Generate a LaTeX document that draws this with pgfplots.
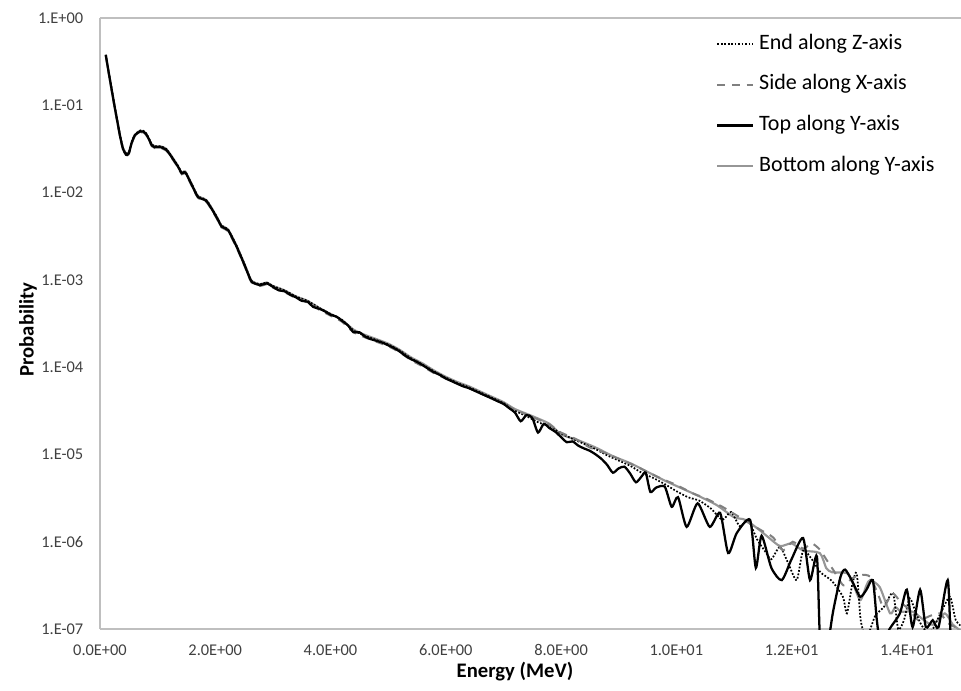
\documentclass[border=0pt]{standalone}
\usepackage{fontspec}
\setmainfont{Carlito}
\usepackage{pgfplots}
\pgfplotsset{compat=1.18}
\definecolor{axgray}{RGB}{191,191,191}
\definecolor{txtgray}{RGB}{64,64,64}
\definecolor{botgray}{RGB}{150,150,150}
\definecolor{dashgray}{RGB}{128,128,128}
\begin{document}
\begin{tikzpicture}
\begin{axis}[
  at={(0,0)}, anchor=south west,
  scale only axis, width=645.75pt, height=458.25pt,
  ymode=log, xmin=0, xmax=14.94, ymin=1e-7, ymax=1,
  axis x line*=box, axis y line*=left,
  axis line style={axgray, line width=0.8pt},
  tick style={draw=none},
  xtick={0,2,4,6,8,10,12,14},
  xticklabels={0.0E+00,2.0E+00,4.0E+00,6.0E+00,8.0E+00,1.0E+01,1.2E+01,1.4E+01},
  ytick={1e-7,1e-6,1e-5,1e-4,1e-3,1e-2,1e-1,1},
  yticklabels={1.E-07,1.E-06,1.E-05,1.E-04,1.E-03,1.E-02,1.E-01,1.E+00},
  tick label style={font=\fontsize{12.3}{14}\selectfont, text=txtgray},
  yticklabel style={xshift=-9pt},
  xticklabel style={yshift=-8pt},
  xlabel={Energy (MeV)}, ylabel={Probability},
  label style={font=\fontsize{15.5}{18}\selectfont\bfseries},
  xlabel style={at={(axis description cs:0.482,-0.0698)}, anchor=center},
  ylabel style={at={(axis description cs:-0.0836,0.49)}, anchor=center},
  legend cell align=left,
  legend image code/.code={\draw[#1] (0pt,0pt) -- (27pt,0pt);},
  legend style={draw=none, fill=none, at={(axis description cs:0.7108,0.980)}, anchor=north west,
    font=\fontsize{16.5}{19}\selectfont, column sep=3.5pt, row sep=14.6pt,
    nodes={inner sep=0pt, text height=12pt, text depth=4pt}},
  every axis plot/.append style={smooth, tension=0.4},
]
\addlegendimage{black, line width=1.3pt, dash pattern=on 1.3pt off 1.3pt}
\addlegendentry{End along Z-axis}
\addlegendimage{dashgray, line width=1.5pt, dash pattern=on 6pt off 5pt}
\addlegendentry{Side along X-axis}
\addlegendimage{black, line width=1.7pt}
\addlegendentry{Top along Y-axis}
\addlegendimage{botgray, line width=1.6pt}
\addlegendentry{Bottom along Y-axis}
% Bottom along Y-axis (gray solid)
\addplot[botgray, line width=1.6pt, forget plot] coordinates {
(0.10,0.370)(0.15,0.236)(0.20,0.151)(0.25,0.0977)(0.30,0.0646)(0.35,0.0437)(0.40,0.0324)(0.45,0.0282)(0.50,0.0290)(0.55,0.0372)(0.60,0.0447)(0.65,0.0490)(0.70,0.0513)(0.75,0.0501)(0.80,0.0468)(0.85,0.0407)(0.90,0.0355)(0.95,0.0339)(1.05,0.0339)(1.15,0.0316)(1.25,0.0257)(1.35,0.0200)(1.42,0.0170)(1.48,0.0174)(1.59,0.0126)(1.70,0.00912)(1.85,0.00813)(2.02,0.00537)(2.11,0.00417)(2.22,0.00380)(2.37,0.00246)(2.52,0.00145)(2.63,9.77e-4)(2.78,8.91e-4)(2.89,9.33e-4)(3.00,8.51e-4)(3.20,7.59e-4)(3.40,6.46e-4)(3.60,5.75e-4)(3.80,4.79e-4)(4.00,4.07e-4)(4.20,3.47e-4)(4.40,2.69e-4)(4.60,2.34e-4)(4.80,2.09e-4)(5.00,1.86e-4)(5.20,1.58e-4)(5.40,1.29e-4)(5.60,1.10e-4)(5.80,9.12e-5)(6.00,7.76e-5)(6.20,6.76e-5)(6.40,6.03e-5)(6.60,5.25e-5)(6.80,4.57e-5)(7.00,3.98e-5)
(7.2,3.31e-5)(7.5,2.75e-5)(7.8,2.24e-5)(8.0,1.70e-5)(8.3,1.45e-5)(8.6,1.20e-5)(8.9,9.55e-6)(9.2,7.94e-6)(9.5,6.31e-6)(9.8,5.01e-6)(10.1,4.07e-6)(10.4,3.31e-6)(10.7,2.63e-6)(11.0,1.91e-6)(11.2,1.78e-6)(11.45,1.35e-6)(11.6,1.12e-6)(11.8,8.91e-7)(12.0,9.55e-7)(12.2,7.94e-7)(12.49,7.41e-7)(12.6,5.01e-7)(12.7,4.47e-7)(12.96,4.37e-7)(13.05,3.55e-7)(13.19,2.14e-7)(13.3,3.16e-7)(13.36,3.63e-7)(13.53,3.02e-7)(13.71,1.51e-7)(13.8,1.78e-7)(13.9,1.58e-7)(14.1,1.58e-7)(14.3,1.26e-7)(14.45,1.12e-7)(14.66,1.51e-7)(14.8,1.12e-7)(15.0,8.9e-8)
};
% End along Z-axis (dotted)
\addplot[black, line width=1.3pt, dash pattern=on 1.3pt off 1.3pt, forget plot] coordinates {
(0.10,0.375)(0.15,0.243)(0.20,0.158)(0.25,0.102)(0.30,0.0676)(0.35,0.0447)(0.40,0.0324)(0.45,0.0282)(0.50,0.0290)(0.55,0.0380)(0.60,0.0457)(0.65,0.0490)(0.70,0.0513)(0.75,0.0510)(0.80,0.0479)(0.85,0.0417)(0.90,0.0355)(0.95,0.0339)(1.05,0.0339)(1.15,0.0316)(1.25,0.0257)(1.35,0.0205)(1.42,0.0170)(1.48,0.0174)(1.59,0.0126)(1.70,0.00912)(1.85,0.00813)(2.02,0.00537)(2.11,0.00417)(2.22,0.00380)(2.37,0.00246)(2.52,0.00145)(2.63,9.77e-4)(2.78,8.91e-4)(2.89,9.33e-4)(3.00,8.51e-4)(3.20,7.59e-4)(3.40,6.46e-4)(3.60,5.75e-4)(3.80,4.79e-4)(4.00,4.07e-4)(4.20,3.47e-4)(4.40,2.63e-4)(4.60,2.29e-4)(4.80,2.04e-4)(5.00,1.82e-4)(5.20,1.55e-4)(5.40,1.26e-4)(5.60,1.07e-4)(5.80,8.91e-5)(6.00,7.59e-5)(6.20,6.61e-5)(6.40,5.89e-5)(6.60,5.13e-5)(6.80,4.47e-5)(7.00,3.89e-5)
(7.2,3.16e-5)(7.4,2.75e-5)(7.6,2.34e-5)(7.8,2.09e-5)(8.0,1.74e-5)(8.2,1.51e-5)(8.4,1.32e-5)(8.6,1.15e-5)(8.8,9.77e-6)(9.0,8.51e-6)(9.2,7.41e-6)(9.4,6.17e-6)(9.6,5.37e-6)(9.8,4.57e-6)(10.0,3.80e-6)(10.2,3.24e-6)(10.4,2.95e-6)(10.6,2.40e-6)(10.8,1.78e-6)(10.95,2.19e-6)(11.1,1.51e-6)(11.25,1.74e-6)(11.4,1.07e-6)(11.55,7.59e-7)(11.65,6.31e-7)(11.8,8.71e-7)(11.95,5.50e-7)(12.09,3.63e-7)(12.2,7.94e-7)(12.35,6.31e-7)(12.5,4.47e-7)(12.7,3.55e-7)(12.89,2.34e-7)(12.96,1.51e-7)(13.05,3.16e-7)(13.13,4.37e-7)(13.2,1.26e-7)(13.3,7.9e-8)(13.45,1.41e-7)(13.6,1.78e-7)(13.76,2.57e-7)(13.85,1.0e-7)(13.95,1.26e-7)(14.05,2.24e-7)(14.15,1.58e-7)(14.25,1.12e-7)(14.4,8.9e-8)(14.6,1.58e-7)(14.75,2.34e-7)(14.85,1.26e-7)(15.0,1.0e-7)
};
% Side along X-axis (dashed gray)
\addplot[dashgray, line width=1.5pt, dash pattern=on 6pt off 5pt, forget plot] coordinates {
(0.10,0.372)(0.15,0.238)(0.20,0.152)(0.25,0.0977)(0.30,0.0646)(0.35,0.0427)(0.40,0.0309)(0.45,0.0266)(0.50,0.0276)(0.55,0.0363)(0.60,0.0437)(0.65,0.0468)(0.70,0.0490)(0.75,0.0490)(0.80,0.0457)(0.85,0.0398)(0.90,0.0339)(0.95,0.0324)(1.05,0.0324)(1.15,0.0302)(1.25,0.0246)(1.35,0.0195)(1.42,0.0162)(1.48,0.0166)(1.59,0.0120)(1.70,0.00871)(1.85,0.00776)(2.02,0.00513)(2.11,0.00398)(2.22,0.00363)(2.37,0.00234)(2.52,0.00138)(2.63,9.33e-4)(2.78,8.51e-4)(2.89,8.91e-4)(3.00,8.13e-4)(3.20,7.24e-4)(3.40,6.17e-4)(3.60,5.50e-4)(3.80,4.57e-4)(4.00,3.89e-4)(4.20,3.31e-4)(4.40,2.51e-4)(4.60,2.19e-4)(4.80,1.95e-4)(5.00,1.74e-4)(5.20,1.48e-4)(5.40,1.20e-4)(5.60,1.02e-4)(5.80,8.51e-5)(6.00,7.41e-5)(6.20,6.46e-5)(6.40,5.75e-5)(6.60,5.01e-5)(6.80,4.37e-5)(7.00,3.80e-5)
(7.2,3.24e-5)(7.5,2.69e-5)(7.8,2.19e-5)(8.0,1.78e-5)(8.25,1.51e-5)(8.5,1.20e-5)(8.75,1.05e-5)(9.0,8.91e-6)(9.25,7.59e-6)(9.5,6.31e-6)(9.75,5.25e-6)(10.0,4.47e-6)(10.3,3.55e-6)(10.5,3.16e-6)(10.8,2.51e-6)(11.0,2.09e-6)(11.3,1.58e-6)(11.5,1.32e-6)(11.68,1.12e-6)(11.85,7.94e-7)(12.02,1.0e-6)(12.2,8.32e-7)(12.35,9.55e-7)(12.49,8.13e-7)(12.6,6.31e-7)(12.72,4.79e-7)(12.9,3.16e-7)(13.05,3.80e-7)(13.2,4.17e-7)(13.36,3.98e-7)(13.5,2.51e-7)(13.6,1.78e-7)(13.75,2.57e-7)(13.9,2.0e-7)(14.05,1.66e-7)(14.2,1.26e-7)(14.4,1.41e-7)(14.57,1.51e-7)(14.75,1.12e-7)(14.95,1.0e-7)
};
% Top along Y-axis (black solid)
\addplot[black, line width=1.7pt, forget plot] coordinates {
(0.10,0.380)(0.15,0.240)(0.20,0.155)(0.25,0.100)(0.30,0.0661)(0.35,0.0437)(0.40,0.0316)(0.45,0.0272)(0.50,0.0282)(0.55,0.0372)(0.60,0.0447)(0.65,0.0479)(0.70,0.0501)(0.75,0.0501)(0.80,0.0468)(0.85,0.0407)(0.90,0.0347)(0.95,0.0331)(1.05,0.0331)(1.15,0.0309)(1.25,0.0251)(1.35,0.0200)(1.42,0.0166)(1.48,0.0170)(1.59,0.0123)(1.70,0.00891)(1.85,0.00794)(2.02,0.00525)(2.11,0.00407)(2.22,0.00372)(2.37,0.00240)(2.52,0.00141)(2.63,9.55e-4)(2.78,8.71e-4)(2.89,9.12e-4)(3.00,8.32e-4)(3.10,7.59e-4)(3.20,7.41e-4)(3.30,6.76e-4)(3.40,6.31e-4)(3.50,5.75e-4)(3.60,5.62e-4)(3.70,4.90e-4)(3.80,4.68e-4)(3.90,4.37e-4)(4.00,3.98e-4)(4.10,3.80e-4)(4.20,3.39e-4)(4.30,3.02e-4)(4.40,2.51e-4)(4.50,2.51e-4)(4.60,2.24e-4)(4.70,2.09e-4)(4.80,2.00e-4)(4.90,1.91e-4)(5.00,1.78e-4)(5.10,1.66e-4)(5.20,1.51e-4)(5.30,1.35e-4)(5.40,1.23e-4)(5.50,1.15e-4)(5.60,1.05e-4)(5.70,9.55e-5)(5.80,8.71e-5)(5.90,8.13e-5)(6.00,7.41e-5)(6.10,6.92e-5)(6.20,6.46e-5)(6.30,6.03e-5)(6.40,5.75e-5)(6.50,5.37e-5)(6.60,5.01e-5)(6.70,4.68e-5)(6.80,4.37e-5)(6.90,4.07e-5)(7.00,3.80e-5)
(7.10,3.39e-5)(7.20,3.02e-5)(7.30,2.40e-5)(7.40,2.82e-5)(7.50,2.63e-5)(7.60,1.78e-5)(7.70,2.24e-5)(7.80,2.00e-5)(7.90,1.82e-5)(8.00,1.58e-5)(8.10,1.38e-5)(8.20,1.41e-5)(8.30,1.26e-5)(8.40,1.17e-5)(8.50,1.10e-5)(8.60,1.00e-5)(8.70,8.91e-6)(8.80,7.59e-6)(8.90,6.17e-6)(9.00,6.92e-6)(9.10,7.24e-6)(9.20,6.03e-6)(9.30,4.79e-6)(9.40,5.62e-6)(9.47,6.17e-6)(9.55,3.72e-6)(9.65,4.17e-6)(9.80,4.27e-6)(9.92,2.51e-6)(10.03,3.24e-6)(10.18,1.48e-6)(10.37,2.75e-6)(10.58,1.48e-6)(10.76,2.14e-6)(10.90,7.41e-7)(11.05,1.26e-6)(11.28,1.78e-6)(11.38,5.01e-7)(11.48,1.17e-6)(11.65,5.01e-7)(11.83,3.63e-7)(12.00,6.31e-7)(12.20,1.10e-6)(12.32,3.63e-7)(12.44,6.76e-7)(12.50,6.3e-8)(12.62,6.3e-8)(12.72,1.58e-7)(12.85,3.98e-7)(12.93,4.79e-7)(13.05,3.55e-7)(13.19,2.34e-7)(13.30,2.82e-7)(13.41,3.63e-7)(13.48,1.26e-7)(13.55,6.3e-8)(13.70,1.0e-7)(13.88,1.51e-7)(14.00,2.82e-7)(14.10,1.05e-7)(14.23,2.82e-7)(14.33,1.05e-7)(14.45,1.26e-7)(14.55,1.05e-7)(14.71,3.63e-7)(14.78,6.3e-8)(15.00,7.9e-8)
};
\end{axis}
\pgfresetboundingbox
\path (-75pt,-46.5pt) rectangle (645.75pt,471.75pt);
\end{tikzpicture}
\end{document}
